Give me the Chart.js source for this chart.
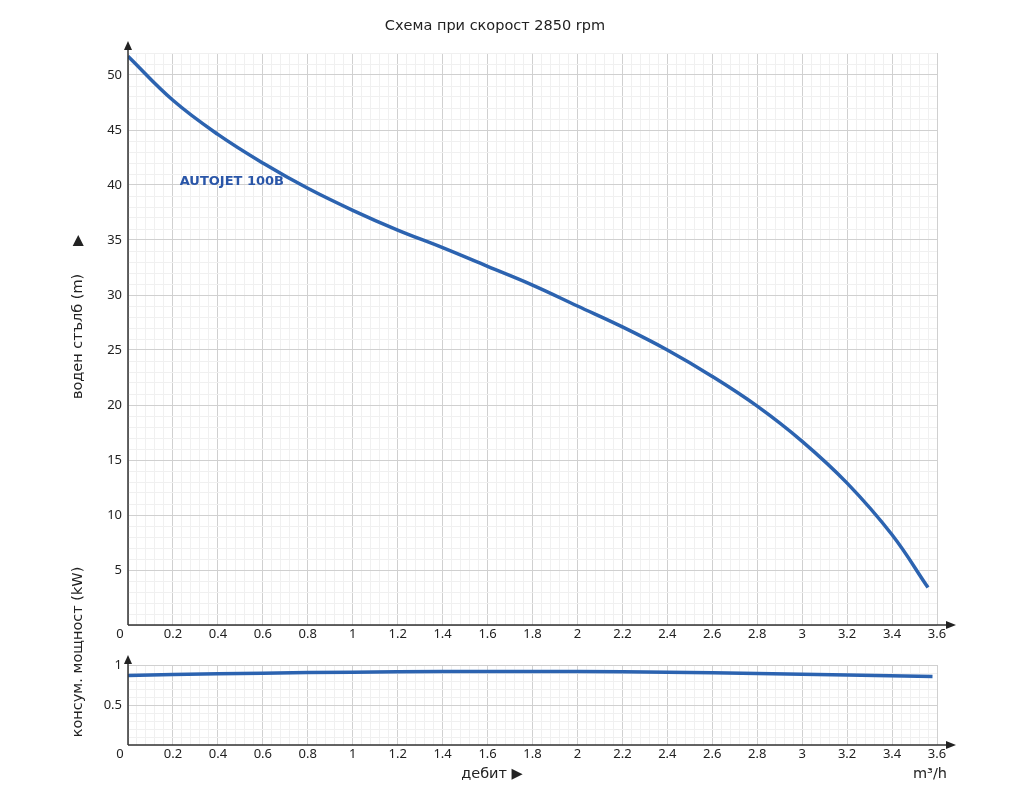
<!DOCTYPE html>
<html lang="bg">
<head>
<meta charset="utf-8">
<script src="https://cdn.jsdelivr.net/npm/chart.js@4"></script>
<style>
  body { margin: 0; background: #fff; font-family: "DejaVu Sans", sans-serif; color: #222; }
  #wrap { position: relative; width: 1024px; height: 800px; overflow: hidden; }
  canvas { position: absolute; left: 0; }
  .txt { position: absolute; white-space: nowrap; font-size: 14.5px; color: #222; }
  .rot { transform: translate(-50%, -50%) rotate(-90deg); }
</style>
</head>
<body>
<div id="wrap">
  <canvas id="chartGlava" width="1024" height="650" style="top:0"></canvas>
  <canvas id="chartMoshtnost" width="1024" height="160" style="top:640px"></canvas>
  <div class="txt" style="left:495px;top:25px;transform:translate(-50%,-50%)">Схема при скорост 2850 rpm</div>
  <div class="txt rot" style="left:77px;top:317px">воден стълб (m) &nbsp;&nbsp;&nbsp;&nbsp;&nbsp;▶</div>
  <div class="txt rot" style="left:77px;top:652px">консум. мощност (kW)</div>
  <div class="txt" style="left:492px;top:773px;transform:translate(-50%,-50%)">дебит ▶</div>
  <div class="txt" style="left:930px;top:773px;transform:translate(-50%,-50%)">m³/h</div>
  <div class="txt" style="left:120px;top:633px;transform:translate(-50%,-50%);font-family:'Noto Sans';font-size:13px">0</div>
  <div class="txt" style="left:120px;top:753px;transform:translate(-50%,-50%);font-family:'Noto Sans';font-size:13px">0</div>
</div>
<script>
// данни, отчетени от графиката
const debit = [0, 0.2, 0.4, 0.6, 0.8, 1.0, 1.2, 1.4, 1.6, 1.8, 2.0, 2.2, 2.4, 2.6, 2.8, 3.0, 3.2, 3.4, 3.56];
const glava = [51.7, 47.7, 44.6, 42.0, 39.7, 37.7, 35.9, 34.3, 32.6, 30.9, 29.0, 27.1, 25.0, 22.6, 19.9, 16.7, 12.9, 8.2, 3.4];
const debitMoshtnost = [0, 0.4, 0.8, 1.2, 1.6, 2.0, 2.4, 2.8, 3.2, 3.58];
const moshtnost = [0.87, 0.89, 0.905, 0.915, 0.92, 0.918, 0.91, 0.895, 0.875, 0.855];
const xEtiketi = [0.2, 0.4, 0.6, 0.8, 1, 1.2, 1.4, 1.6, 1.8, 2, 2.2, 2.4, 2.6, 2.8, 3, 3.2, 3.4, 3.6];
const yEtiketi = [5, 10, 15, 20, 25, 30, 35, 40, 45, 50];
const yEtiketiMoshtnost = [0.5, 1];

const SINYO = '#2c63b0';
const shrift = { family: 'Noto Sans', size: 13 };

const imaEtiket = (v, spisak) => spisak.some(e => Math.abs(e - v) < 1e-6);

function xSkala() {
    return {
        type: 'linear', min: 0, max: 3.6,
        afterFit: s => { s.height = 25; },
        border: { display: false },
        grid: {
            drawTicks: false,
            color: c => imaEtiket(c.tick.value, xEtiketi) || c.tick.value === 0 ? '#d0d0d0' : '#f0f0f0'
        },
        ticks: {
            stepSize: 0.04, autoSkip: false, maxRotation: 0, padding: 1, color: '#222', font: shrift,
            callback: v => imaEtiket(v, xEtiketi) ? String(Math.round(v * 10) / 10) : ''
        }
    };
}

// оси със стрелки
const strelki = {
    id: 'strelki',
    afterDraw(chart) {
        const { ctx, chartArea: a } = chart;
        const gore = chart.options.plugins.strelki.gore;
        ctx.save();
        ctx.strokeStyle = '#333';
        ctx.fillStyle = '#222';
        ctx.lineWidth = 1.5;
        ctx.beginPath();
        ctx.moveTo(a.left, a.bottom);
        ctx.lineTo(a.right + 12, a.bottom);
        ctx.moveTo(a.left, a.bottom);
        ctx.lineTo(a.left, a.top - gore + 4);
        ctx.stroke();
        ctx.beginPath();
        ctx.moveTo(a.right + 19, a.bottom);
        ctx.lineTo(a.right + 9, a.bottom - 4);
        ctx.lineTo(a.right + 9, a.bottom + 4);
        ctx.closePath();
        ctx.fill();
        ctx.beginPath();
        ctx.moveTo(a.left, a.top - gore - 4);
        ctx.lineTo(a.left - 4, a.top - gore + 5);
        ctx.lineTo(a.left + 4, a.top - gore + 5);
        ctx.closePath();
        ctx.fill();
        ctx.restore();
    }
};

// надпис на кривата
const nadpis = {
    id: 'nadpis',
    afterDatasetsDraw(chart) {
        const { ctx } = chart;
        const x = chart.scales.x.getPixelForValue(0.23);
        const y = chart.scales.y.getPixelForValue(40.3);
        ctx.save();
        ctx.font = 'bold 13px "DejaVu Sans"';
        ctx.fillStyle = '#2a56a8';
        ctx.textBaseline = 'middle';
        ctx.fillText('AUTOJET 100B', x, y);
        ctx.restore();
    }
};

new Chart(document.getElementById('chartGlava').getContext('2d'), {
    type: 'line',
    data: {
        labels: debit,
        datasets: [{
            data: debit.map((d, i) => ({ x: d, y: glava[i] })),
            borderColor: SINYO, borderWidth: 3.5, pointRadius: 0,
            tension: 0.4, fill: false
        }]
    },
    options: {
        responsive: false, animation: false,
        layout: { padding: { left: 83, right: 87, top: 53, bottom: 0 } },
        plugins: { legend: { display: false }, tooltip: { enabled: false }, strelki: { gore: 8 } },
        scales: {
            x: xSkala(),
            y: {
                min: 0, max: 52,
                afterFit: s => { s.width = 45; },
                border: { display: false },
                grid: {
                    drawTicks: false,
                    color: c => c.tick.value % 5 === 0 ? '#d0d0d0' : '#f0f0f0'
                },
                ticks: {
                    stepSize: 1, autoSkip: false, padding: 6, color: '#222', font: shrift,
                    callback: v => imaEtiket(v, yEtiketi) ? String(v) : ''
                }
            }
        }
    },
    plugins: [strelki, nadpis]
});

new Chart(document.getElementById('chartMoshtnost').getContext('2d'), {
    type: 'line',
    data: {
        labels: debitMoshtnost,
        datasets: [{
            data: debitMoshtnost.map((d, i) => ({ x: d, y: moshtnost[i] })),
            borderColor: SINYO, borderWidth: 3.5, pointRadius: 0,
            tension: 0.4, fill: false
        }]
    },
    options: {
        responsive: false, animation: false,
        layout: { padding: { left: 83, right: 87, top: 25, bottom: 30 } },
        plugins: { legend: { display: false }, tooltip: { enabled: false }, strelki: { gore: 6 } },
        scales: {
            x: xSkala(),
            y: {
                min: 0, max: 1,
                afterFit: s => { s.width = 45; },
                border: { display: false },
                grid: {
                    drawTicks: false,
                    color: c => imaEtiket(c.tick.value, yEtiketiMoshtnost) ? '#d0d0d0' : '#f0f0f0'
                },
                ticks: {
                    stepSize: 0.1, autoSkip: false, padding: 6, color: '#222', font: shrift,
                    callback: v => imaEtiket(v, yEtiketiMoshtnost) ? String(Math.round(v * 10) / 10) : ''
                }
            }
        }
    },
    plugins: [strelki]
});
</script>
</body>
</html>
